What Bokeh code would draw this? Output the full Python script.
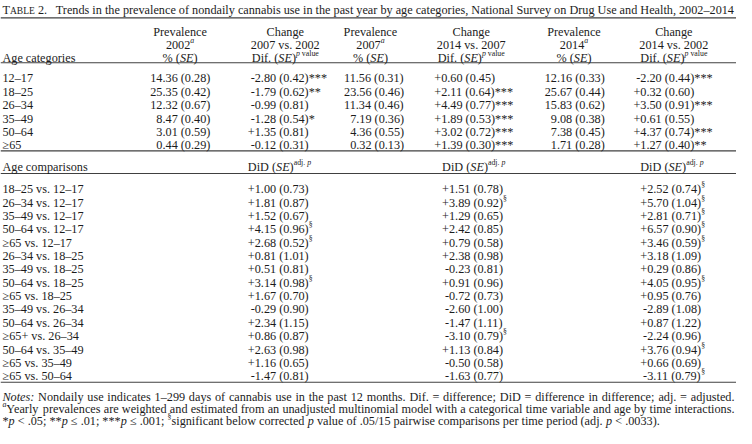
from bokeh.plotting import figure
from bokeh.models import Range1d
from bokeh.embed import file_html
from bokeh.resources import INLINE
from bokeh.core.properties import value

# ---------------- data ----------------
title_label = ("T", "ABLE", " 2.")
title_text = ("Trends in the prevalence of nondaily cannabis use in the past year by age "
              "categories, National Survey on Drug Use and Health, 2002\u20132014")

age_categories = ["12\u201317", "18\u201325", "26\u201334", "35\u201349", "50\u201364", "\u226565"]
prev_2002 = ["14.36 (0.28)", "25.35 (0.42)", "12.32 (0.67)", "8.47 (0.40)", "3.01 (0.59)", "0.44 (0.29)"]
chg_2007_2002 = ["-2.80 (0.42)***", "-1.79 (0.62)**", "-0.99 (0.81)", "-1.28 (0.54)*", "+1.35 (0.81)", "-0.12 (0.31)"]
prev_2007 = ["11.56 (0.31)", "23.56 (0.46)", "11.34 (0.46)", "7.19 (0.36)", "4.36 (0.55)", "0.32 (0.13)"]
chg_2014_2007 = ["+0.60 (0.45)", "+2.11 (0.64)***", "+4.49 (0.77)***", "+1.89 (0.53)***", "+3.02 (0.72)***", "+1.39 (0.30)***"]
prev_2014 = ["12.16 (0.33)", "25.67 (0.44)", "15.83 (0.62)", "9.08 (0.38)", "7.38 (0.45)", "1.71 (0.28)"]
chg_2014_2002 = ["-2.20 (0.44)***", "+0.32 (0.60)", "+3.50 (0.91)***", "+0.61 (0.55)", "+4.37 (0.74)***", "+1.27 (0.40)**"]

header_years = ["2002", "2007 vs. 2002", "2007", "2014 vs. 2007", "2014", "2014 vs. 2002"]
header_kinds = ["prev", "chg", "prev", "chg", "prev", "chg"]

comparisons = ["18\u201325 vs. 12\u201317", "26\u201334 vs. 12\u201317", "35\u201349 vs. 12\u201317",
               "50\u201364 vs. 12\u201317", "\u226565 vs. 12\u201317", "26\u201334 vs. 18\u201325",
               "35\u201349 vs. 18\u201325", "50\u201364 vs. 18\u201325", "\u226565 vs. 18\u201325",
               "35\u201349 vs. 26\u201334", "50\u201364 vs. 26\u201334", "\u226565+ vs. 26\u201334",
               "50\u201364 vs. 35\u201349", "\u226565 vs. 35\u201349", "\u226565 vs. 50\u201364"]
did_2007_2002 = ["+1.00 (0.73)", "+1.81 (0.87)", "+1.52 (0.67)", "+4.15 (0.96)", "+2.68 (0.52)",
                 "+0.81 (1.01)", "+0.51 (0.81)", "+3.14 (0.98)", "+1.67 (0.70)", "-0.29 (0.90)",
                 "+2.34 (1.15)", "+0.86 (0.87)", "+2.63 (0.98)", "+1.16 (0.65)", "-1.47 (0.81)"]
did_2007_2002_sig = [0, 0, 0, 1, 1, 0, 0, 1, 0, 0, 0, 0, 0, 0, 0]
did_2014_2007 = ["+1.51 (0.78)", "+3.89 (0.92)", "+1.29 (0.65)", "+2.42 (0.85)", "+0.79 (0.58)",
                 "+2.38 (0.98)", "-0.23 (0.81)", "+0.91 (0.96)", "-0.72 (0.73)", "-2.60 (1.00)",
                 "-1.47 (1.11)", "-3.10 (0.79)", "+1.13 (0.84)", "-0.50 (0.58)", "-1.63 (0.77)"]
did_2014_2007_sig = [0, 1, 0, 0, 0, 0, 0, 0, 0, 0, 0, 1, 0, 0, 0]
did_2014_2002 = ["+2.52 (0.74)", "+5.70 (1.04)", "+2.81 (0.71)", "+6.57 (0.90)", "+3.46 (0.59)",
                 "+3.18 (1.09)", "+0.29 (0.86)", "+4.05 (0.95)", "+0.95 (0.76)", "-2.89 (1.08)",
                 "+0.87 (1.22)", "-2.24 (0.96)", "+3.76 (0.94)", "+0.66 (0.69)", "-3.11 (0.79)"]
did_2014_2002_sig = [1, 1, 1, 1, 1, 0, 0, 1, 0, 0, 0, 0, 1, 0, 1]

note_1 = [("Notes:", "i"), (" Nondaily use indicates 1\u2013299 days of cannabis use in the past 12 months. "
          "Dif. = difference; DiD = difference in difference; adj. = adjusted.", "n")]
note_2 = [("a", "si"), ("Yearly prevalences are weighted and estimated from an unadjusted multinomial model "
          "with a categorical time variable and age by time interactions.", "n")]
note_3 = [("*", "n"), ("p", "i"), (" < .05; **", "n"), ("p", "i"), (" \u2264 .01; ***", "n"), ("p", "i"),
          (" \u2264 .001; ", "n"), ("\u00a7", "s"), ("significant below corrected ", "n"), ("p", "i"),
          (" value of .05/15 pairwise comparisons per time period (adj. ", "n"), ("p", "i"),
          (" < .0033).", "n")]

# ---------------- layout ----------------
W, H = 752, 444
PW, PH = 736, 428
SX, SY = PW / W, PH / H
FS_REF = 12.5                 # font size in reference pixels
FS = FS_REF * SX              # screen px
FS_SUP = FS * 0.64
FS_SC = FS * 0.78
SUP_RAISE = 4.6               # data units
MID_TO_BASE = 3.9             # data units
FONT = "Liberation Serif"
INK = "#1c1c1c"

W_R = {' ': 250, '!': 333, '"': 408, '#': 500, '%': 833, '&': 778, '(': 333, ')': 333, '*': 500,
       '+': 564, ',': 250, '-': 333, '.': 250, '/': 278, ':': 278, ';': 278, '<': 564, '=': 564,
       '>': 564, '?': 444, 'A': 722, 'B': 667, 'C': 667, 'D': 722, 'E': 611, 'F': 556, 'G': 722,
       'H': 722, 'I': 333, 'J': 389, 'K': 722, 'L': 611, 'M': 889, 'N': 722, 'O': 722, 'P': 556,
       'Q': 722, 'R': 667, 'S': 556, 'T': 611, 'U': 722, 'V': 722, 'W': 944, 'X': 722, 'Y': 722,
       'Z': 611, 'a': 444, 'b': 500, 'c': 444, 'd': 500, 'e': 444, 'f': 333, 'g': 500, 'h': 500,
       'i': 278, 'j': 278, 'k': 500, 'l': 278, 'm': 778, 'n': 500, 'o': 500, 'p': 500, 'q': 500,
       'r': 333, 's': 389, 't': 278, 'u': 500, 'v': 500, 'w': 722, 'x': 500, 'y': 500, 'z': 444,
       '\u2013': 500, '\u2265': 549, '\u2264': 549, '\u00a7': 500}
W_I = dict(W_R)
W_I.update({'S': 500, 'E': 611, 'N': 667, 'a': 500, 'p': 500, 'o': 500, 't': 278, 'e': 444,
            's': 389, ':': 333, 'r': 389, 'v': 444})

STYLE = {"n": ("normal", FS, 0.0), "i": ("italic", FS, 0.0),
         "s": ("normal", FS_SUP, -SUP_RAISE), "si": ("italic", FS_SUP, -SUP_RAISE),
         "sc": ("normal", FS_SC, 0.0)}


def tw(s, st="n"):
    fstyle, size, _ = STYLE[st]
    table = W_I if fstyle == "italic" else W_R
    return sum(table.get(c, 500) for c in s) / 1000.0 * size / SX


buckets = {k: {"x": [], "y": [], "t": []} for k in STYLE}


def put(runs, x, ymid, align="left"):
    base = ymid + MID_TO_BASE
    widths = [tw(t, st) for t, st in runs]
    if align == "center":
        x -= sum(widths) / 2.0
    for (t, st), w in zip(runs, widths):
        lead = len(t) - len(t.lstrip(" "))
        if t.strip():
            b = buckets[st]
            b["x"].append(x + tw(" " * lead, st))
            b["y"].append(base + STYLE[st][2])
            b["t"].append(t.strip())
        x += w


def put_justified(runs, x0, x1, ymid):
    words = [[]]
    for t, st in runs:
        for k, part in enumerate(t.split(" ")):
            if k > 0:
                words.append([])
            if part:
                words[-1].append((part, st))
    words = [w for w in words if w]
    ww = [sum(tw(t, st) for t, st in w) for w in words]
    gap = (x1 - x0 - sum(ww)) / (len(words) - 1)
    x = x0
    for w, wd in zip(words, ww):
        put(w, x, ymid)
        x += wd + gap


def put_decimal(text, dec_x, ymid, sup=None):
    start = dec_x - tw(text[:text.index(".")])
    runs = [(text, "n")]
    if sup:
        runs.append((sup, "s"))
    put(runs, start, ymid)


X_LEFT = 2
X_RIGHT = 750
X_TITLE = 56.5
Y_TITLE = 6
Y_RULES = [18, 64.5, 156, 179.5, 396]
Y_HEAD = [28.5, 42, 55.5]
Y_ROW0, DY_ROW = 77, 13.85
Y_COMP_HEAD = 168.5
Y_COMP0, DY_COMP = 192, 13.85
Y_NOTES = [407.5, 420, 432.5]

HEAD_CX = [183.5, 291, 378, 481, 586, 688]
COL_DEC = [165.5, 266, 363.5, 456.5, 568.5, 660]
DID_DEC = [266, 464.5, 667]

# title
put([(title_label[0], "n"), (title_label[1], "sc"), (title_label[2], "n")], X_LEFT, Y_TITLE)
put([(title_text, "n")], X_TITLE, Y_TITLE)

# header
for cx, yr, kind in zip(HEAD_CX, header_years, header_kinds):
    if kind == "prev":
        put([("Prevalence", "n")], cx, Y_HEAD[0], "center")
        put([(yr, "n"), ("a", "si")], cx, Y_HEAD[1], "center")
        put([("% (", "n"), ("SE", "i"), (")", "n")], cx, Y_HEAD[2], "center")
    else:
        put([("Change", "n")], cx, Y_HEAD[0], "center")
        put([(yr, "n")], cx, Y_HEAD[1], "center")
        put([("Dif. (", "n"), ("SE", "i"), (")", "n"), ("p", "si"), (" value", "s")], cx, Y_HEAD[2], "center")
put([("Age categories", "n")], X_LEFT, Y_HEAD[2])

# prevalence rows
columns = [prev_2002, chg_2007_2002, prev_2007, chg_2014_2007, prev_2014, chg_2014_2002]
for i, age in enumerate(age_categories):
    y = Y_ROW0 + i * DY_ROW
    put([(age, "n")], X_LEFT, y)
    for col, dx in zip(columns, COL_DEC):
        put_decimal(col[i], dx, y)

# comparisons header
put([("Age comparisons", "n")], X_LEFT, Y_COMP_HEAD)
for dx in DID_DEC:
    put([("DiD (", "n"), ("SE", "i"), (")", "n"), ("adj. ", "s"), ("p", "si")], dx - tw("+0"), Y_COMP_HEAD)

did_cols = [(did_2007_2002, did_2007_2002_sig), (did_2014_2007, did_2014_2007_sig),
            (did_2014_2002, did_2014_2002_sig)]
for i, comp in enumerate(comparisons):
    y = Y_COMP0 + i * DY_COMP
    put([(comp, "n")], X_LEFT, y)
    for (vals, sig), dx in zip(did_cols, DID_DEC):
        put_decimal(vals[i], dx, y, "\u00a7" if sig[i] else None)

# notes
put_justified(note_1, X_LEFT, X_RIGHT, Y_NOTES[0])
put_justified(note_2, X_LEFT, X_RIGHT, Y_NOTES[1])
put(note_3, X_LEFT, Y_NOTES[2])

# ---------------- figure ----------------
p = figure(width=PW, height=PH, x_range=Range1d(0, W), y_range=Range1d(H, 0),
           output_backend="svg", toolbar_location=None,
           x_axis_location=None, y_axis_location=None, min_border=0)
p.grid.visible = False
p.outline_line_color = None
p.background_fill_color = "white"
p.border_fill_color = "white"

p.segment(x0=[0] * len(Y_RULES), x1=[W] * len(Y_RULES), y0=Y_RULES, y1=Y_RULES,
          line_color="#404040", line_width=1.1)

for key, b in buckets.items():
    if not b["t"]:
        continue
    fstyle, size, _ = STYLE[key]
    p.text(x=b["x"], y=b["y"], text=b["t"], text_font=value(FONT),
           text_font_size=value(f"{size:.2f}px"), text_font_style=fstyle,
           text_align="left", text_baseline="alphabetic", text_color=INK)

open("out.html", "w").write(file_html(p, INLINE))
